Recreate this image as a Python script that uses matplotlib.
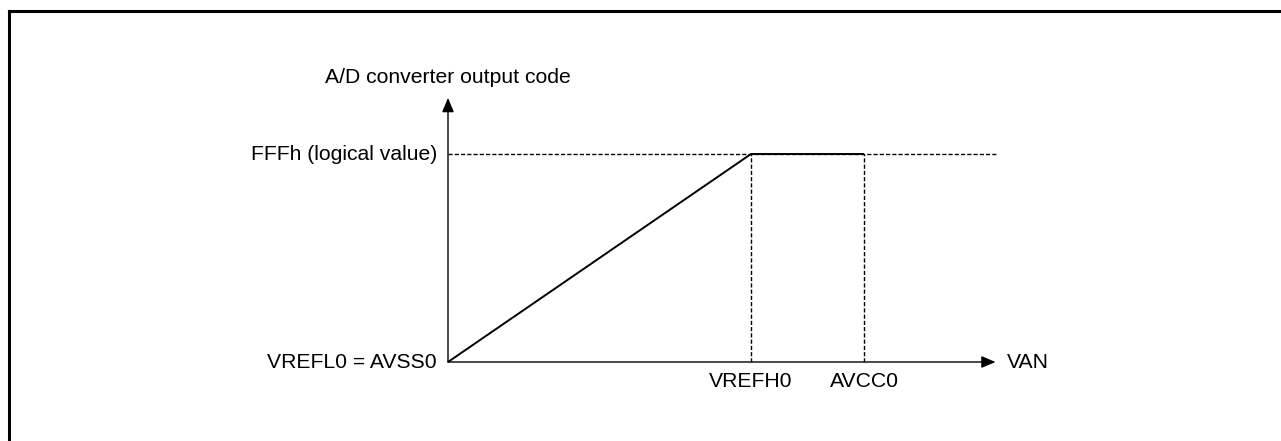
import matplotlib
matplotlib.use("Agg")
import matplotlib.pyplot as plt
from matplotlib.lines import Line2D

plt.rcParams['font.family'] = ['Liberation Sans', 'DejaVu Sans']

# ---- data (arbitrary voltage units, VREFH0 = 1.0) ----
x_labels = ["VREFH0", "AVCC0"]
x_marks = [1.0, 1.373]
origin_label = "VREFL0 = AVSS0"
full_code = 4095
full_label = "FFFh (logical value)"
y_title = "A/D converter output code"
x_title = "VAN"
curve_x = [0.0, 1.0, 1.373]
curve_y = [0, 4095, 4095]
x_end = 1.812
y_end = 5200

W, H = 1281, 441
fig = plt.figure(figsize=(W / 100, H / 100), dpi=100)

# frame decoration (top and left border)
fig.add_artist(Line2D([8.5 / W, 8.5 / W], [0, 1 - 10.5 / H], transform=fig.transFigure,
                      color='black', lw=2.2, solid_capstyle='projecting'))
fig.add_artist(Line2D([8.5 / W, 1], [1 - 10.5 / H, 1 - 10.5 / H], transform=fig.transFigure,
                      color='black', lw=2.2, solid_capstyle='projecting'))

x0, y0 = 448, 362           # origin pixel
px_x = 303                  # pixels per x unit
px_y = 208 / 4095           # pixels per code
ax_w = 560
ax_h = 275
ax = fig.add_axes([x0 / W, (H - y0) / H, ax_w / W, ax_h / H])
ax.set_xlim(0, ax_w / px_x)
ax.set_ylim(0, ax_h / px_y)
ax.axis('off')

lw_ax = 1.0
# axes with arrows
ax.annotate('', xy=(1.807, 0), xytext=(0, 0),
            arrowprops=dict(arrowstyle='-|>,head_length=0.85,head_width=0.36', color='black',
                            lw=lw_ax, shrinkA=0, shrinkB=0))
ax.annotate('', xy=(0, (362 - 98) / px_y), xytext=(0, 0),
            arrowprops=dict(arrowstyle='-|>,head_length=0.85,head_width=0.36', color='black',
                            lw=lw_ax, shrinkA=0, shrinkB=0))

# dashed guides
ax.plot([0, x_end], [full_code, full_code], color='black', lw=1.0, dashes=(3, 1.5), clip_on=False)
for xm in x_marks:
    ax.plot([xm, xm], [0, full_code], color='black', lw=1.0, dashes=(3, 1.5), clip_on=False)

# transfer curve
ax.plot(curve_x, curve_y, color='black', lw=1.4, clip_on=False, solid_capstyle='butt')

fs = 15.2
ax.annotate(y_title, xy=(0, (362 - 98) / px_y), xytext=(0, 14.5), textcoords='offset points',
            ha='center', va='center', fontsize=fs)
ax.annotate(full_label, xy=(0, full_code), xytext=(-8, 0), textcoords='offset points',
            ha='right', va='center', fontsize=fs)
ax.annotate(origin_label, xy=(0, 0), xytext=(-8, 0), textcoords='offset points',
            ha='right', va='center', fontsize=fs)
for lab, xm in zip(x_labels, x_marks):
    ax.annotate(lab, xy=(xm, 0), xytext=(0, -14), textcoords='offset points',
                ha='center', va='center', fontsize=fs)
ax.annotate(x_title, xy=(1.807, 0), xytext=(8, 0), textcoords='offset points',
            ha='left', va='center', fontsize=fs)

fig.savefig('out.png', dpi=100, facecolor='white')
